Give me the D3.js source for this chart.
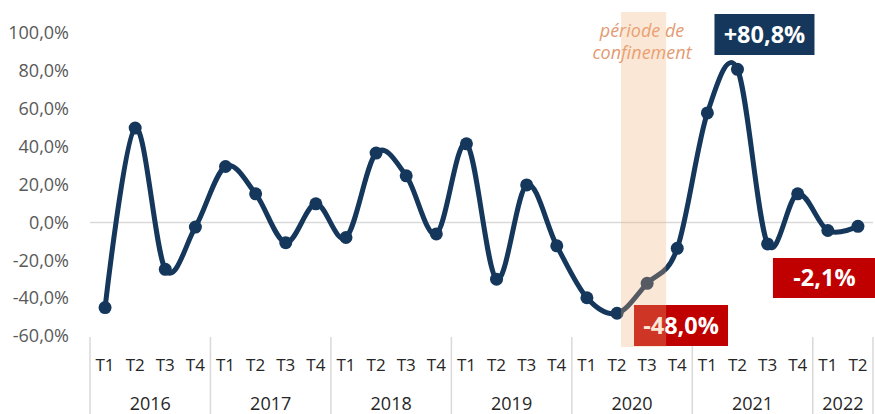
<!DOCTYPE html>
<html>
<head>
<meta charset="utf-8">
<script src="https://cdn.jsdelivr.net/npm/d3@7"></script>
<style>
  html, body { margin: 0; padding: 0; background: #fff; }
  svg { display: block; font-family: "Open Sans", sans-serif; }
</style>
</head>
<body>
<svg id="chart" width="875" height="414"></svg>
<script>
const years = ["2016", "2017", "2018", "2019", "2020", "2021", "2022"];
const quartersPerYear = [4, 4, 4, 4, 4, 4, 2];
const quarterLabels = ["T1", "T2", "T3", "T4"];
const values = [
  -45.0, 49.8, -24.8, -2.5,
  29.5, 15.1, -10.7, 9.8,
  -8.0, 36.6, 24.6, -6.1,
  41.5, -30.0, 19.8, -12.4,
  -39.8, -48.0, -32.2, -13.7,
  57.8, 80.8, -11.4, 15.1,
  -4.3, -2.1
];
const yTicks = [-60, -40, -20, 0, 20, 40, 60, 80, 100];
const annotations = [
  { index: 21, text: "+80,8%", kind: "pos" },
  { index: 17, text: "-48,0%", kind: "neg" },
  { index: 25, text: "-2,1%", kind: "neg" }
];
const confinementText = ["période de", "confinement"];
const confinementRange = [17, 18];

const NAVY = "#14375b", RED = "#c00000";

const points = [];
years.forEach((yr, yi) => {
  for (let q = 0; q < quartersPerYear[yi]; q++) {
    points.push({ year: yr, q: quarterLabels[q], idx: points.length });
  }
});
points.forEach((p, i) => p.value = values[i]);

const svg = d3.select("#chart");
const x = d3.scaleBand().domain(points.map(p => p.idx)).range([90, 873]).paddingInner(0).paddingOuter(0);
const y = d3.scaleLinear().domain([-60, 100]).range([336, 33]);
const cx = i => x(i) + x.bandwidth() / 2;
const bw = x.bandwidth();

// y tick labels
svg.append("g").selectAll("text").data(yTicks).join("text")
  .attr("x", 69).attr("y", d => y(d)).attr("dy", "0.35em")
  .attr("text-anchor", "end").attr("font-size", 18).attr("fill", "#595959")
  .text(d => d3.format(".1f")(d).replace(".", ",").replace("−", "-") + "%");

// zero line
svg.append("line").attr("x1", 90).attr("x2", 873).attr("y1", y(0)).attr("y2", y(0))
  .attr("stroke", "#d9d9d9").attr("stroke-width", 1.5);

// quarter labels
svg.append("g").selectAll("text").data(points).join("text")
  .attr("x", d => cx(d.idx)).attr("y", 371)
  .attr("text-anchor", "middle").attr("font-size", 17).attr("fill", "#262626")
  .text(d => d.q);

// year groups
let start = 0;
const yearGroups = years.map((yr, yi) => {
  const g = { year: yr, start, end: start + quartersPerYear[yi] - 1 };
  start += quartersPerYear[yi];
  return g;
});
const boundaries = [x(0)].concat(yearGroups.map(g => x(g.end) + bw));
svg.append("g").selectAll("line").data(boundaries).join("line")
  .attr("x1", d => d).attr("x2", d => d).attr("y1", 337).attr("y2", 414)
  .attr("stroke", "#d9d9d9").attr("stroke-width", 1.5);
svg.append("g").selectAll("text").data(yearGroups).join("text")
  .attr("x", d => (x(d.start) + x(d.end) + bw) / 2).attr("y", 410)
  .attr("text-anchor", "middle").attr("font-size", 18).attr("fill", "#262626")
  .text(d => d.year);

// line
const line = d3.line().x(d => cx(d.idx)).y(d => y(d.value)).curve(d3.curveCardinal.tension(0));
svg.append("path").datum(points).attr("d", line)
  .attr("fill", "none").attr("stroke", NAVY).attr("stroke-width", 5).attr("stroke-linejoin", "round");
svg.append("g").selectAll("circle").data(points).join("circle")
  .attr("cx", d => cx(d.idx)).attr("cy", d => y(d.value)).attr("r", 6.5).attr("fill", NAVY);

// annotations
const annLayout = {
  21: { dx: -23, w: 100, y0: 14, h: 41 },
  17: { dx: 17, w: 94, y0: 305, h: 41 },
  25: { dx: -85, w: 103, y0: 258, h: 40 }
};
annotations.forEach(a => {
  const L = annLayout[a.index];
  const x0 = cx(a.index) + L.dx;
  svg.append("rect").attr("x", x0).attr("y", L.y0).attr("width", L.w).attr("height", L.h)
    .attr("fill", a.kind === "pos" ? NAVY : RED);
  svg.append("text").attr("x", x0 + L.w / 2).attr("y", L.y0 + L.h / 2).attr("dy", "0.36em")
    .attr("text-anchor", "middle").attr("font-size", 23.5).attr("font-weight", 700).attr("fill", "#fff")
    .text(a.text);
});

// confinement label
const tx = cx(confinementRange[0]) + 25;
svg.append("g").selectAll("text").data(confinementText).join("text")
  .attr("x", tx).attr("y", (d, i) => 37 + i * 22)
  .attr("text-anchor", "middle").attr("font-size", 18).attr("font-style", "italic")
  .attr("fill", "#e49a72").text(d => d);

// confinement band (semi-transparent overlay)
const bx0 = cx(confinementRange[0]) + 4;
const bx1 = cx(confinementRange[1]) + 19;
svg.append("rect").attr("x", bx0).attr("y", 12).attr("width", bx1 - bx0).attr("height", 335)
  .attr("fill", "#f2af76").attr("opacity", 0.3);
</script>
</body>
</html>
